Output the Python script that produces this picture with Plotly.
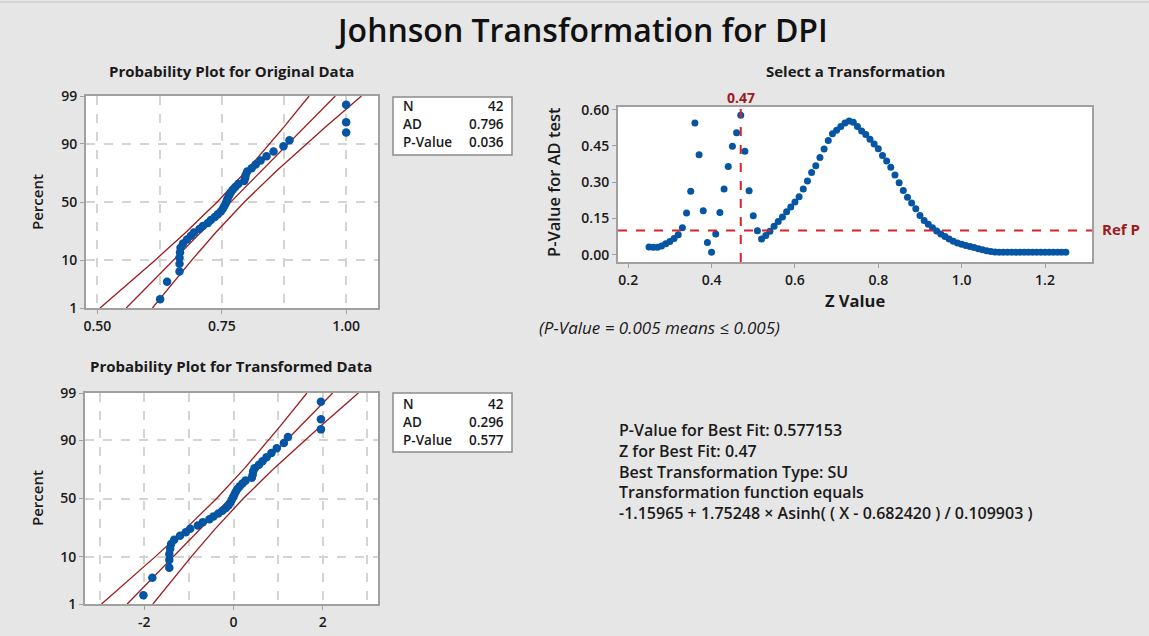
from statistics import NormalDist
import plotly.graph_objects as go

W, H = 1149, 636

# ---- data ----
orig_values = [0.626, 0.640, 0.665, 0.665, 0.665, 0.666, 0.667, 0.672, 0.680, 0.688,
               0.694, 0.705, 0.712, 0.722, 0.728, 0.736, 0.742, 0.748, 0.752, 0.755,
               0.758, 0.760, 0.762, 0.765, 0.768, 0.772, 0.777, 0.783, 0.795, 0.797,
               0.798, 0.801, 0.810, 0.818, 0.828, 0.840, 0.854, 0.874, 0.886, 1.000,
               1.000, 1.000]
trans_values = [-2.02, -1.82, -1.44, -1.44, -1.44, -1.42, -1.40, -1.33, -1.20, -1.07,
                -0.97, -0.80, -0.69, -0.54, -0.45, -0.34, -0.25, -0.17, -0.11, -0.07,
                -0.04, -0.01, 0.02, 0.05, 0.09, 0.14, 0.20, 0.27, 0.41, 0.43,
                0.44, 0.47, 0.57, 0.65, 0.74, 0.85, 0.97, 1.13, 1.22, 1.96,
                1.96, 1.96]
plot_percent = [1.65, 4.01, 6.37, 8.73, 11.08, 13.44, 15.80, 18.16, 20.52, 22.88,
                25.24, 27.59, 29.95, 32.31, 34.67, 37.03, 39.39, 41.75, 44.10, 46.46,
                48.82, 51.18, 53.54, 55.90, 58.25, 60.61, 62.97, 65.33, 67.69, 70.05,
                72.41, 74.76, 77.12, 79.48, 81.84, 84.20, 86.56, 88.92, 91.27, 93.63,
                95.99, 98.35]

# fitted line and 95% CI bands at these percent levels
band_percent = [1, 5, 10, 25, 50, 75, 90, 95, 99]
orig_lower = [0.5053, 0.5776, 0.6154, 0.6768, 0.7407, 0.7986, 0.8468, 0.8746, 0.9255]
orig_fit = [0.5579, 0.6195, 0.6523, 0.7071, 0.7680, 0.8289, 0.8837, 0.9165, 0.9781]
orig_upper = [0.6105, 0.6614, 0.6892, 0.7374, 0.7953, 0.8592, 0.9206, 0.9584, 1.0307]
trans_lower = [-2.959, -2.167, -1.753, -1.080, -0.379, 0.256, 0.785, 1.089, 1.647]
trans_fit = [-2.383, -1.708, -1.349, -0.748, -0.080, 0.588, 1.189, 1.548, 2.223]
trans_upper = [-1.807, -1.249, -0.945, -0.416, 0.219, 0.920, 1.593, 2.007, 2.800]

z_grid = [0.25, 0.26, 0.27, 0.28, 0.29, 0.30, 0.31, 0.32, 0.33, 0.34,
          0.35, 0.36, 0.37, 0.38, 0.39, 0.40, 0.41, 0.42, 0.43, 0.44,
          0.45, 0.46, 0.47, 0.48, 0.49, 0.50, 0.51, 0.52, 0.53, 0.54,
          0.55, 0.56, 0.57, 0.58, 0.59, 0.60, 0.61, 0.62, 0.63, 0.64,
          0.65, 0.66, 0.67, 0.68, 0.69, 0.70, 0.71, 0.72, 0.73, 0.74,
          0.75, 0.76, 0.77, 0.78, 0.79, 0.80, 0.81, 0.82, 0.83, 0.84,
          0.85, 0.86, 0.87, 0.88, 0.89, 0.90, 0.91, 0.92, 0.93, 0.94,
          0.95, 0.96, 0.97, 0.98, 0.99, 1.00, 1.01, 1.02, 1.03, 1.04,
          1.05, 1.06, 1.07, 1.08, 1.09, 1.10, 1.11, 1.12, 1.13, 1.14,
          1.15, 1.16, 1.17, 1.18, 1.19, 1.20, 1.21, 1.22, 1.23, 1.24, 1.25]
ad_pvalues = [0.032, 0.031, 0.031, 0.036, 0.045, 0.055, 0.067, 0.083, 0.112, 0.173,
              0.263, 0.545, 0.414, 0.182, 0.051, 0.010, 0.086, 0.175, 0.272, 0.365,
              0.449, 0.504, 0.577, 0.428, 0.265, 0.161, 0.099, 0.065, 0.080, 0.097,
              0.118, 0.138, 0.156, 0.178, 0.197, 0.218, 0.240, 0.272, 0.305, 0.340,
              0.368, 0.402, 0.437, 0.472, 0.500, 0.515, 0.530, 0.545, 0.553, 0.548,
              0.530, 0.512, 0.497, 0.478, 0.458, 0.438, 0.410, 0.388, 0.362, 0.330,
              0.298, 0.266, 0.238, 0.214, 0.190, 0.162, 0.142, 0.126, 0.112, 0.098,
              0.086, 0.075, 0.065, 0.056, 0.049, 0.043, 0.038, 0.034, 0.030, 0.025,
              0.021, 0.017, 0.013, 0.011, 0.010, 0.010, 0.010, 0.010, 0.010, 0.010,
              0.010, 0.010, 0.010, 0.010, 0.010, 0.010, 0.010, 0.010, 0.010, 0.010, 0.010]

best_z = 0.47
ref_p = 0.10
pct_ticks = [1, 10, 50, 90, 99]

orig_stats = [("N", "42"), ("AD", "0.796"), ("P-Value", "0.036")]
trans_stats = [("N", "42"), ("AD", "0.296"), ("P-Value", "0.577")]
summary_lines = [
    "P-Value for Best Fit: 0.577153",
    "Z for Best Fit: 0.47",
    "Best Transformation Type: SU",
    "Transformation function equals",
    "-1.15965 + 1.75248 × Asinh( ( X - 0.682420 ) / 0.109903 )",
]

# ---- styling ----
FONT = "Open Sans"
BLUE = "#0455a3"
DARKRED = "#9b1b1e"
RED = "#d7222a"
AXIS = "#a0a0a0"
GRID = "#d4d4d4"
BG = "#e6e6e6"
INK = "#1a1a1a"

nd = NormalDist()


def probit(pcts):
    return [nd.inv_cdf(p / 100.0) for p in pcts]


def px_x(px):
    return px / W


def px_y(py):
    return 1 - py / H


fig = go.Figure()

# probability plots
for xs, lo, fit, hi, ax in [
    (orig_values, orig_lower, orig_fit, orig_upper, ""),
    (trans_values, trans_lower, trans_fit, trans_upper, "3"),
]:
    for line in (lo, fit, hi):
        fig.add_trace(go.Scatter(
            x=line, y=probit(band_percent), mode="lines",
            line=dict(color=DARKRED, width=1.3),
            xaxis="x" + ax, yaxis="y" + ax, hoverinfo="skip", showlegend=False,
        ))
    fig.add_trace(go.Scatter(
        x=xs, y=probit(plot_percent), mode="markers",
        marker=dict(color=BLUE, size=8.5),
        xaxis="x" + ax, yaxis="y" + ax, showlegend=False,
    ))

# transformation selection scatter
fig.add_trace(go.Scatter(
    x=z_grid, y=ad_pvalues, mode="markers",
    marker=dict(color=BLUE, size=7),
    xaxis="x2", yaxis="y2", showlegend=False,
))

tickfont = dict(family=FONT, size=14, color=INK, weight=600)
zr = [nd.inv_cdf(0.01), nd.inv_cdf(0.99)]

common = dict(showline=True, mirror=True, linecolor=AXIS, linewidth=2,
              ticks="outside", ticklen=4, tickcolor=AXIS, tickfont=tickfont,
              zeroline=False, automargin=False)
prob_y = dict(common, range=zr, tickvals=probit(pct_ticks),
              ticktext=[str(p) for p in pct_ticks],
              showgrid=True, gridcolor=GRID, griddash="dash", gridwidth=1.5)

fig.update_layout(
    width=W, height=H,
    margin=dict(l=0, r=0, t=0, b=0, autoexpand=False),
    paper_bgcolor=BG, plot_bgcolor="white",
    font=dict(family=FONT, color=INK),
    xaxis=dict(common, domain=[px_x(86), px_x(378)], range=[0.477, 1.064],
               tick0=0.5, dtick=0.25, tickformat=".2f",
               showgrid=True, gridcolor=GRID, griddash="dash", gridwidth=1.5,
               minor=dict(tick0=0.5, dtick=0.125, showgrid=True, gridcolor=GRID,
                          griddash="dash", gridwidth=1.5, ticks=""),
               anchor="y"),
    yaxis=dict(prob_y, domain=[px_y(308), px_y(96)], anchor="x"),
    xaxis2=dict(common, domain=[px_x(618), px_x(1092)], range=[0.1755, 1.3127],
                tick0=0.2, dtick=0.2, tickformat=".1f", showgrid=False, anchor="y2"),
    yaxis2=dict(common, domain=[px_y(262), px_y(107)], range=[-0.030, 0.611],
                tick0=0, dtick=0.15, tickformat=".2f", showgrid=False, anchor="x2"),
    xaxis3=dict(common, domain=[px_x(85), px_x(378)], range=[-3.33, 3.24],
                tickvals=[-2, 0, 2], ticktext=["-2", "0", "2"],
                showgrid=True, gridcolor=GRID, griddash="dash", gridwidth=1.5,
                minor=dict(tick0=0, dtick=1, showgrid=True, gridcolor=GRID,
                           griddash="dash", gridwidth=1.5, ticks=""),
                anchor="y3"),
    yaxis3=dict(prob_y, domain=[px_y(604), px_y(393)], anchor="x3"),
)

shapes = [
    dict(type="line", xref="x2", yref="y2 domain", x0=best_z, x1=best_z, y0=0, y1=1,
         line=dict(color=RED, width=2, dash="dash")),
    dict(type="line", xref="x2 domain", yref="y2", x0=0, x1=1, y0=ref_p, y1=ref_p,
         line=dict(color=RED, width=2, dash="dash")),
    # stats boxes
    dict(type="rect", xref="paper", yref="paper", x0=px_x(393), x1=px_x(512),
         y0=px_y(155), y1=px_y(97), fillcolor="white", line=dict(color="#8c8c8c", width=1.5)),
    dict(type="rect", xref="paper", yref="paper", x0=px_x(393), x1=px_x(512),
         y0=px_y(452), y1=px_y(393), fillcolor="white", line=dict(color="#8c8c8c", width=1.5)),
    # frame line along top edge
    dict(type="line", xref="paper", yref="paper", x0=0, x1=1, y0=px_y(2), y1=px_y(2),
         line=dict(color="#c4c4c4", width=1)),
]

ann = []


def text(x, y, s, size=14, weight=600, color=INK, xanchor="center",
         angle=0, italic=False):
    if italic:
        s = "<i>" + s + "</i>"
    ann.append(dict(x=px_x(x), y=px_y(y), xref="paper", yref="paper", text=s,
                    showarrow=False, xanchor=xanchor, yanchor="middle",
                    textangle=angle, align="left",
                    font=dict(family=FONT, size=size, color=color, weight=weight)))


text(581, 30, "Johnson Transformation for DPI", size=32, color="#111111")
text(231, 71, "Probability Plot for Original Data", size=15, weight=700)
text(855, 71, "Select a Transformation", size=15, weight=700)
text(231, 366, "Probability Plot for Transformed Data", size=15, weight=700)
text(37, 202, "Percent", size=15, angle=-90)
text(37, 498, "Percent", size=15, angle=-90)
text(553, 182, "P-Value for AD test", size=16.5, angle=-90)
text(855, 300, "Z Value", size=16.5, weight=700)
text(537, 327, "(P-Value = 0.005 means ≤ 0.005)", size=17, weight=400,
     xanchor="left", italic=True)
text(1100, 229, "Ref P", size=15, weight=700, color=DARKRED, xanchor="left")

# 0.47 label above the vertical line
ann.append(dict(x=best_z, y=px_y(97), xref="x2", yref="paper", text="0.47",
                showarrow=False, xanchor="center", yanchor="middle",
                font=dict(family=FONT, size=14, color=DARKRED, weight=700)))

for stats, top in [(orig_stats, 106), (trans_stats, 404)]:
    for i, (lab, val) in enumerate(stats):
        yy = top + i * 18
        text(401, yy, lab, size=13.5, xanchor="left")
        text(506, yy, val, size=13.5, xanchor="right")

text(617, 471.5, "<br>".join(summary_lines), size=16, xanchor="left")

fig.update_layout(shapes=shapes, annotations=ann)

pin_page = (
    "document.documentElement.style.overflow='hidden';"
    "document.body.style.margin='0';"
    "document.body.style.overflow='hidden';"
    "document.body.style.height='636px';"
    "var d=document.querySelector('.plotly-graph-div');"
    "d.style.position='fixed';d.style.top='0';d.style.left='0';"
)
fig.write_html("out.html", config={"displayModeBar": False}, post_script=pin_page)
